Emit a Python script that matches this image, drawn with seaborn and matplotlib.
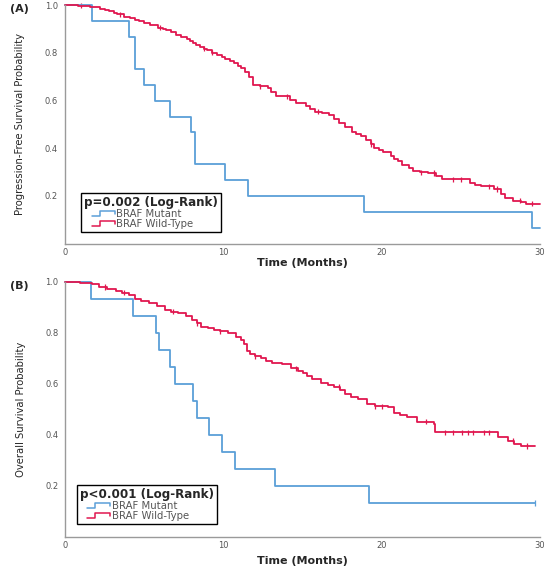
import numpy as np
import pandas as pd
import matplotlib
matplotlib.use("Agg")
import matplotlib.pyplot as plt
import seaborn as sns
from matplotlib.lines import Line2D
from matplotlib.legend_handler import HandlerBase
from matplotlib import font_manager as fm

# ---------------- data ----------------
groups = ["BRAF Mutant", "BRAF Wild-Type"]
colors = {"BRAF Mutant": "#5b9fd8", "BRAF Wild-Type": "#e0174f"}

# Panel A: progression-free survival
pfs_mut_t = [0, 1.7, 4.05, 4.45, 5.0, 5.7, 6.65, 7.95, 8.2, 10.1, 11.55, 18.9, 29.5, 30.0]
pfs_mut_s = [1.0, 0.933, 0.867, 0.733, 0.667, 0.6, 0.533, 0.467, 0.333, 0.267, 0.2, 0.133, 0.067, 0.067]

pfs_wt_t = [0, 0.8, 1.3, 1.6, 1.9, 2.2, 2.5, 2.8, 3.1, 3.3, 3.7, 4.1, 4.4, 4.7, 5.0, 5.4,
            5.9, 6.2, 6.4, 6.7, 7.0, 7.3, 7.7, 7.9, 8.1, 8.3, 8.5, 8.8, 9.0, 9.3, 9.6,
            9.9, 10.1, 10.4, 10.65, 10.9, 11.1, 11.35, 11.6, 11.9, 12.3, 12.8, 13.0, 13.3,
            13.9, 14.2, 14.6, 15.2, 15.5, 15.8, 16.2, 16.7, 17.0, 17.3, 17.7, 18.1, 18.4,
            18.7, 19.0, 19.3, 19.5, 19.8, 20.1, 20.6, 20.8, 21.0, 21.3, 21.7, 22.0, 22.4,
            22.9, 23.4, 23.8, 25.6, 25.9, 26.3, 27.1, 27.5, 27.8, 28.3, 28.8, 29.1, 30.0]
pfs_wt_s = [1.0, 0.997, 0.996, 0.994, 0.99, 0.985, 0.98, 0.975, 0.969, 0.962, 0.952, 0.945,
            0.938, 0.932, 0.925, 0.917, 0.905, 0.9, 0.896, 0.886, 0.876, 0.866, 0.856, 0.848,
            0.84, 0.833, 0.826, 0.818, 0.81, 0.8, 0.79, 0.783, 0.775, 0.766, 0.757, 0.746,
            0.735, 0.72, 0.70, 0.666, 0.66, 0.652, 0.635, 0.617, 0.617, 0.603, 0.589, 0.578,
            0.566, 0.554, 0.547, 0.54, 0.522, 0.505, 0.488, 0.47, 0.461, 0.452, 0.435, 0.418,
            0.40, 0.392, 0.385, 0.368, 0.356, 0.345, 0.33, 0.318, 0.305, 0.30, 0.296, 0.283,
            0.27, 0.255, 0.247, 0.24, 0.229, 0.21, 0.19, 0.18, 0.173, 0.167, 0.167]
pfs_wt_cens = [1.0, 3.5, 6.0, 8.8, 9.3, 12.3, 14.0, 16.0, 19.3, 22.5, 23.3, 24.5, 25.0,
               26.8, 27.3, 28.7, 29.5]
pfs_mut_cens = []

# Panel B: overall survival
os_mut_t = [0, 1.6, 4.3, 5.7, 5.95, 6.6, 6.95, 8.1, 8.35, 9.1, 9.9, 10.7, 13.25, 19.2, 29.7]
os_mut_s = [1.0, 0.933, 0.867, 0.8, 0.733, 0.667, 0.6, 0.533, 0.467, 0.4, 0.333, 0.267,
            0.2, 0.133, 0.133]

os_wt_t = [0, 0.9, 1.7, 2.1, 2.6, 3.2, 3.6, 4.0, 4.4, 4.8, 5.3, 5.8, 6.3, 6.7, 7.1, 7.6,
           8.0, 8.3, 8.6, 9.0, 9.4, 9.8, 10.3, 10.8, 11.1, 11.3, 11.5, 11.7, 12.0, 12.35,
           12.7, 13.1, 13.7, 14.3, 14.7, 15.0, 15.3, 15.6, 16.2, 16.6, 17.0, 17.4, 17.7,
           18.1, 18.5, 19.1, 19.6, 20.4, 20.8, 21.2, 21.6, 22.25, 23.3, 23.4, 27.35, 28.0,
           28.4, 28.8, 29.7]
os_wt_s = [1.0, 0.997, 0.992, 0.98, 0.972, 0.966, 0.958, 0.949, 0.932, 0.926, 0.919, 0.905,
           0.89, 0.884, 0.877, 0.865, 0.851, 0.838, 0.825, 0.818, 0.812, 0.806, 0.799, 0.786,
           0.773, 0.755, 0.73, 0.716, 0.708, 0.70, 0.69, 0.681, 0.677, 0.661, 0.652, 0.642,
           0.63, 0.618, 0.605, 0.597, 0.589, 0.575, 0.56, 0.55, 0.54, 0.52, 0.512, 0.508,
           0.487, 0.48, 0.472, 0.452, 0.443, 0.41, 0.393, 0.378, 0.366, 0.357, 0.357]
os_wt_cens = [2.5, 3.7, 6.8, 8.3, 9.8, 12.0, 14.6, 17.3, 19.6, 20.0, 22.8, 24.0, 24.5,
              25.1, 25.5, 25.8, 26.5, 26.8, 28.3, 29.2]
os_mut_cens = [29.7]

x_ticks = [0, 10, 20, 30]
y_ticks = [0.2, 0.4, 0.6, 0.8, 1.0]

panels = [
    dict(tag="(A)", ylabel="Progression-Free Survival Probability",
         ptext="p=0.002 (Log-Rank)",
         curves={"BRAF Mutant": (pfs_mut_t, pfs_mut_s, pfs_mut_cens),
                 "BRAF Wild-Type": (pfs_wt_t, pfs_wt_s, pfs_wt_cens)},
         rect=[0.118, 0.571, 0.864, 0.420], leg=(0.034, 0.049), xpad=1),
    dict(tag="(B)", ylabel="Overall Survival Probability",
         ptext="p<0.001 (Log-Rank)",
         curves={"BRAF Mutant": (os_mut_t, os_mut_s, os_mut_cens),
                 "BRAF Wild-Type": (os_wt_t, os_wt_s, os_wt_cens)},
         rect=[0.119, 0.0546, 0.862, 0.449], leg=(0.024, 0.051), xpad=4),
]


class StepHandler(HandlerBase):
    """Draws a small step glyph, indented inside the handle area."""
    def create_artists(self, legend, orig_handle, xdescent, ydescent, width, height,
                       fontsize, trans):
        x0, y0 = -xdescent, -ydescent
        a = x0 + 0.25 * width
        w = 0.75 * width
        xs = [a, a + 0.35 * w, a + 0.35 * w, a + w, a + w]
        ys = [y0 + 0.15 * height, y0 + 0.15 * height, y0 + 0.8 * height,
              y0 + 0.8 * height, y0 + 0.4 * height]
        ln = Line2D(xs, ys, color=orig_handle.get_color(), lw=1.1, transform=trans)
        return [ln]


sns.set_theme(style="white")
plt.rcParams["font.family"] = ["DejaVu Sans"]

# narrow face for the y labels, if one is installed
ylab_kw = dict(fontsize=6.3, family="DejaVu Sans")
for fam in ["Liberation Sans Narrow", "DejaVu Sans"]:
    fp = fm.FontProperties(family=fam, stretch="condensed")
    try:
        path = fm.findfont(fp, fallback_to_default=False)
    except Exception:
        continue
    if "Narrow" in path or "Condensed" in path:
        ylab_kw = dict(fontsize=8, family=fam, fontstretch="condensed")
        break

fig = plt.figure(figsize=(5.5, 5.68), dpi=100)

for p in panels:
    ax = fig.add_axes(p["rect"])
    rows = []
    cens_rows = []
    for g in groups:
        t, s, c = p["curves"][g]
        for ti, si in zip(t, s):
            rows.append((g, ti, si))
        t_arr = np.array(t)
        s_arr = np.array(s)
        for ci in c:
            idx = np.searchsorted(t_arr, ci, side="right") - 1
            cens_rows.append((g, ci, s_arr[idx]))
    df = pd.DataFrame(rows, columns=["group", "time", "surv"])
    dfc = pd.DataFrame(cens_rows, columns=["group", "time", "surv"])
    sns.lineplot(data=df, x="time", y="surv", hue="group", palette=colors,
                 estimator=None, sort=False, drawstyle="steps-post", lw=1.3,
                 legend=False, ax=ax, clip_on=False)
    sns.scatterplot(data=dfc, x="time", y="surv", hue="group", palette=colors,
                    marker="|", s=14, linewidth=0.9, legend=False, ax=ax, clip_on=False)

    ax.set_xlim(0, 30)
    ax.set_ylim(0, 1.0)
    ax.set_xticks(x_ticks)
    ax.set_yticks(y_ticks)
    ax.set_xticklabels([str(v) for v in x_ticks])
    ax.set_yticklabels([f"{v:.1f}" for v in y_ticks])
    ax.tick_params(axis="both", length=0, labelsize=6, labelcolor="#555555")
    ax.tick_params(axis="y", pad=5)
    ax.tick_params(axis="x", pad=3)
    for side in ["top", "right"]:
        ax.spines[side].set_visible(False)
    for side in ["left", "bottom"]:
        ax.spines[side].set_color("#9a9a9a")
        ax.spines[side].set_linewidth(1.0)
    ax.set_facecolor("white")
    ax.set_xlabel("Time (Months)", fontsize=8, fontweight="bold", labelpad=p["xpad"])
    ax.set_ylabel(p["ylabel"], labelpad=14, **ylab_kw)
    ax.text(-0.116, 0.985, p["tag"], transform=ax.transAxes, fontsize=8, fontweight="bold",
            ha="left", va="center")

    handles = [Line2D([], [], color=colors[g]) for g in groups]
    leg = ax.legend(handles, groups, title=p["ptext"], loc="lower left",
                    bbox_to_anchor=p["leg"], borderaxespad=0, frameon=True, fancybox=False,
                    edgecolor="black", fontsize=7.3,
                    title_fontproperties={"weight": "bold", "size": 8.6},
                    handler_map={Line2D: StepHandler()}, handlelength=3.0,
                    handletextpad=0.15, labelspacing=0.0, borderpad=0.3,
                    alignment="left", framealpha=1)
    leg.get_frame().set_linewidth(1.0)
    for txt in leg.get_texts():
        txt.set_color("#555555")

fig.savefig("out.png", dpi=100, facecolor="white")
